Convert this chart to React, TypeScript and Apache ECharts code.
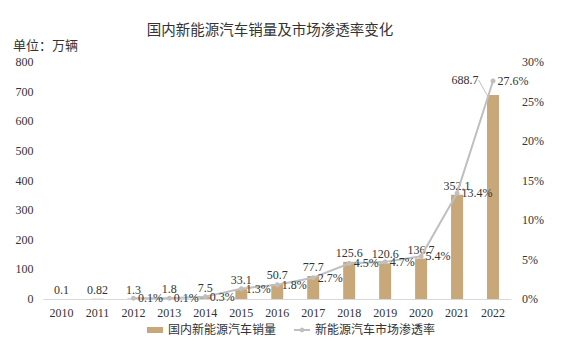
import React, { useEffect, useRef } from "react";
import * as echarts from "echarts";

const years = ["2010", "2011", "2012", "2013", "2014", "2015", "2016", "2017", "2018", "2019", "2020", "2021", "2022"];
const sales = [0.1, 0.82, 1.3, 1.8, 7.5, 33.1, 50.7, 77.7, 125.6, 120.6, 136.7, 352.1, 688.7];
const salesLabels = ["0.1", "0.82", "1.3", "1.8", "7.5", "33.1", "50.7", "77.7", "125.6", "120.6", "136.7", "352.1", "688.7"];
const penetration: (number | null)[] = [null, null, 0.1, 0.1, 0.3, 1.3, 1.8, 2.7, 4.5, 4.7, 5.4, 13.4, 27.6];

const FONT = "Liberation Serif, Noto Sans CJK SC, serif";

export default function App() {
  const ref = useRef<HTMLDivElement>(null);
  useEffect(() => {
    document.body.style.margin = "0";
    const chart = echarts.init(ref.current!, null, { renderer: "svg" });
    const last = sales.length - 1;
    chart.setOption({
      animation: false,
      textStyle: { fontFamily: FONT },
      title: {
        text: "国内新能源汽车销量及市场渗透率变化",
        left: 265,
        textAlign: "center",
        top: 18,
        textStyle: { fontFamily: FONT, fontSize: 14.5, fontWeight: "normal", color: "#333" },
      },
      graphic: [
        {
          type: "text",
          left: 13,
          top: 39,
          style: { text: "单位：万辆", fontFamily: FONT, fontSize: 13, fill: "#333" },
        },
      ],
      legend: {
        bottom: 10,
        left: 142,
        itemGap: 17,
        itemWidth: 16,
        itemHeight: 6,
        textStyle: { fontFamily: FONT, fontSize: 12, color: "#333" },
        data: [
          { name: "国内新能源汽车销量", icon: "rect" },
          { name: "新能源汽车市场渗透率" },
        ],
      },
      grid: { left: 43.5, right: 52, top: 62, bottom: 52 },
      xAxis: {
        type: "category",
        data: years,
        axisLine: { lineStyle: { color: "#D9D9D9" } },
        axisTick: { show: false },
        axisLabel: { color: "#333", fontSize: 12, margin: 8, fontFamily: FONT },
      },
      yAxis: [
        {
          type: "value",
          min: 0,
          max: 800,
          interval: 100,
          splitLine: { show: false },
          axisLine: { show: false },
          axisTick: { show: false },
          axisLabel: { color: "#333", fontSize: 12, margin: 10, fontFamily: FONT },
        },
        {
          type: "value",
          min: 0,
          max: 30,
          interval: 5,
          splitLine: { show: false },
          axisLine: { show: false },
          axisTick: { show: false },
          axisLabel: { color: "#333", fontSize: 12, margin: 11, formatter: "{value}%", fontFamily: FONT },
        },
      ],
      series: [
        {
          name: "国内新能源汽车销量",
          type: "bar",
          barWidth: 12,
          itemStyle: { color: "#C8A878" },
          data: sales.map((v, i) => ({
            value: v,
            label: { show: true, position: "top", formatter: salesLabels[i] },
            labelLine: { show: i === last },
          })),
          labelLine: { show: false, lineStyle: { color: "#BFBFBF", width: 1 } },
          labelLayout: (p: any) => (p.dataIndex === last ? { dx: -28, dy: -6 } : {}),
          label: { color: "#333", fontSize: 12, fontFamily: FONT, distance: 3 },
        },
        {
          name: "新能源汽车市场渗透率",
          type: "line",
          yAxisIndex: 1,
          data: penetration,
          symbol: "circle",
          symbolSize: 5,
          lineStyle: { color: "#BFBFBF", width: 2 },
          itemStyle: { color: "#BFBFBF" },
          label: {
            show: true,
            position: "right",
            distance: 2,
            formatter: (p: any) => p.value + "%",
            color: "#333",
            fontSize: 12,
            fontFamily: FONT,
          },
        },
      ],
    });
    return () => chart.dispose();
  }, []);
  return <div ref={ref} style={{ width: 563, height: 351 }} />;
}
